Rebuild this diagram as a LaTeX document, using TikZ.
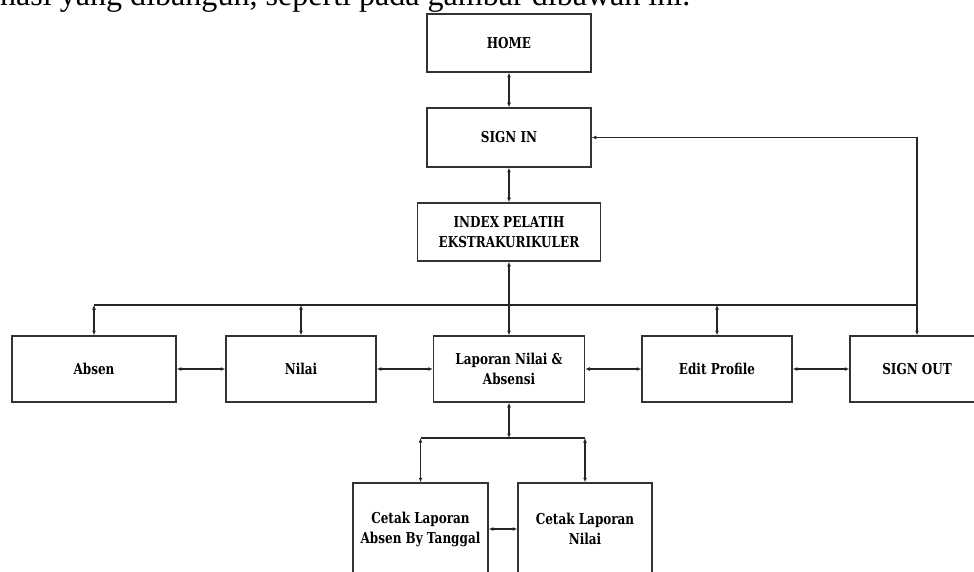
\documentclass[tikz,border=0pt]{standalone}
\usepackage{fontspec}
\setmainfont{Liberation Serif}
\newfontfamily\boxfont[FakeStretch=0.8]{DejaVu Serif}
\usetikzlibrary{arrows.meta}
\begin{document}
\begin{tikzpicture}[x=1pt,y=1pt,
  box/.style={draw=black!80, line width=1.5pt, fill=white, inner sep=0pt, align=center,
    font=\boxfont\bfseries\fontsize{15}{20}\selectfont},
  conn/.style={draw=black!85, line width=1.1pt,
    {Latex[length=4.5pt,width=4pt]}-{Latex[length=4.5pt,width=4pt]}},
  plain/.style={draw=black!85, line width=1.1pt}]
\useasboundingbox (0,0) rectangle (974,-572);
\clip (0,0) rectangle (974,-572);

\node[anchor=base west, inner sep=0pt] (caption) at (0,-6)
  {\resizebox{690pt}{!}{nasi yang dibangun, seperti pada gambar dibawah ini.}};

\node[box, minimum width=164pt, minimum height=58pt] (home) at (509,-43) {HOME};
\node[box, minimum width=164pt, minimum height=59pt] (signin) at (509,-137.5) {SIGN IN};
\node[box, minimum width=183pt, minimum height=58pt] (index) at (509,-232) {INDEX PELATIH\\EKSTRAKURIKULER};

\node[box, minimum width=164pt, minimum height=66pt] (absen) at (94,-369) {Absen};
\node[box, minimum width=150pt, minimum height=66pt] (nilai) at (301,-369) {Nilai};
\node[box, minimum width=151pt, minimum height=66pt] (lap) at (509,-369) {Laporan Nilai \&\\Absensi};
\node[box, minimum width=150pt, minimum height=66pt] (edit) at (717,-369) {Edit Profile};
\node[box, minimum width=134pt, minimum height=66pt] (signout) at (917,-369) {SIGN OUT};

\node[box, minimum width=135pt, minimum height=92pt] (cabsen) at (420.5,-529) {Cetak Laporan\\Absen By Tanggal};
\node[box, minimum width=134pt, minimum height=92pt] (cnilai) at (585,-529) {Cetak Laporan\\Nilai};

\coordinate (bus) at (0,-305);
\coordinate (bustwo) at (0,-438);

\draw[conn] (home) -- (signin);
\draw[conn] (signin) -- (index);
\draw[conn] (index) -- (lap);

\draw[plain] (absen.north |- bus) -- (signout.north |- bus);
\draw[conn] (absen.north |- bus) -- (absen.north);
\draw[conn] (nilai.north |- bus) -- (nilai.north);
\draw[conn] (edit.north |- bus) -- (edit.north);
\draw[conn] (signout.north) -- (signout.north |- signin.east) -- (signin.east);

\draw[conn] (absen) -- (nilai);
\draw[conn] (nilai) -- (lap);
\draw[conn] (lap) -- (edit);
\draw[conn] (edit) -- (signout);

\draw[conn] (lap.south) -- (lap.south |- bustwo);
\draw[plain] (cabsen.north |- bustwo) -- (cnilai.north |- bustwo);
\draw[conn] (cabsen.north |- bustwo) -- (cabsen.north);
\draw[conn] (cnilai.north |- bustwo) -- (cnilai.north);
\draw[conn] (cabsen) -- (cnilai);
\end{tikzpicture}
\end{document}
